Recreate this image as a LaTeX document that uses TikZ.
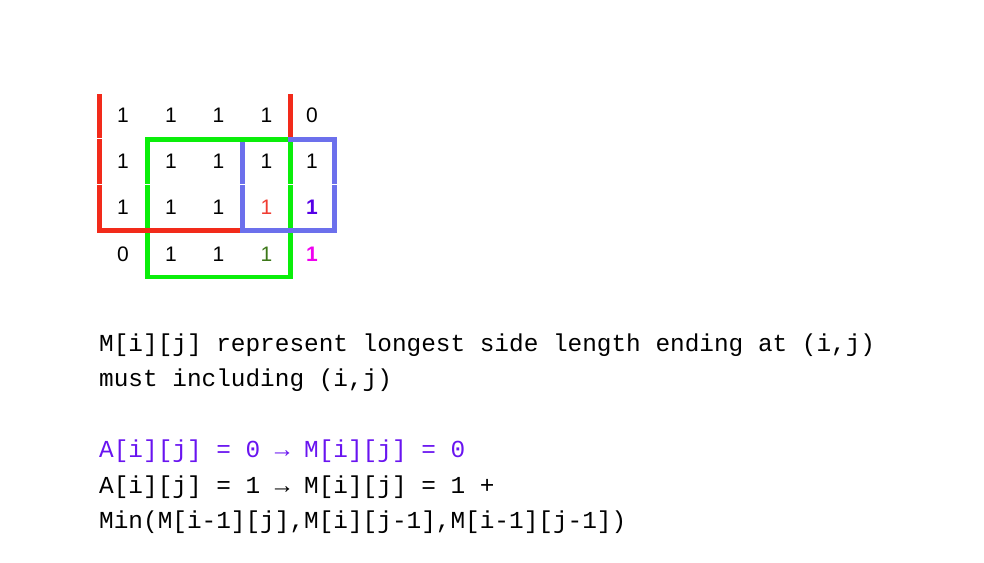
\documentclass[tikz,border=0pt]{standalone}
\usepackage{fontspec}
\setmainfont{Liberation Sans}
\newfontfamily\codefont{Liberation Mono}
\definecolor{redline}{RGB}{242,42,26}
\definecolor{greenline}{RGB}{10,238,10}
\definecolor{blueline}{RGB}{108,112,236}
\definecolor{redone}{RGB}{240,60,50}
\definecolor{purpleone}{RGB}{85,0,230}
\definecolor{magentaone}{RGB}{240,0,240}
\definecolor{darkgreenone}{RGB}{60,120,25}
\definecolor{codepurple}{RGB}{105,20,240}
\tikzset{
  cell/.style={inner sep=0pt, font=\fontsize{21}{25}\selectfont},
  boldcell/.style={inner sep=0pt, font=\fontsize{21}{25}\selectfont\bfseries},
  hline/.style={line width=4.8pt},
  gap/.style={white, line width=1.1pt},
  code/.style={anchor=base west, inner sep=0pt, font=\codefont\fontsize{24.4}{30}\selectfont}
}
\begin{document}
\begin{tikzpicture}[x=1pt,y=-1pt]
\useasboundingbox (0,0) rectangle (984,562);
% green square
\draw[hline, greenline] (147.5,139.5) rectangle (290.8,277);
% blue square
\draw[hline, blueline, line join=miter] (242.5,141.7) -- (242.5,230.3) -- (334.2,230.3) -- (334.2,139.5) -- (288.3,139.5);
% red L
\draw[hline, redline, line join=miter] (99.5,91.5) -- (99.5,230.5) -- (240.2,230.5);
\draw[hline, redline] (290.5,91.5) -- (290.5,137.3);
% small white gaps on the verticals
\foreach \gx in {99.5,290.5} \draw[gap] (\gx-3,93) -- (\gx+3,93);
\draw[gap] (96,138.4) -- (103,138.4);
\foreach \gx in {99.5,147.5,242.5,290.8,334.2} \draw[gap] (\gx-3,184.2) -- (\gx+3,184.2);
% matrix
\node[cell] (a11) at (123,115) {1};
\node[cell] (a12) at (171,115) {1};
\node[cell] (a13) at (218.5,115) {1};
\node[cell] (a14) at (266.5,115) {1};
\node[cell] (a15) at (312,115) {0};
\node[cell] (a21) at (123,161) {1};
\node[cell] (a22) at (171,161) {1};
\node[cell] (a23) at (218.5,161) {1};
\node[cell] (a24) at (266.5,161) {1};
\node[cell] (a25) at (312,161) {1};
\node[cell] (a31) at (123,207) {1};
\node[cell] (a32) at (171,207) {1};
\node[cell] (a33) at (218.5,207) {1};
\node[cell, text=redone] (a34) at (266.5,207) {1};
\node[boldcell, text=purpleone] (a35) at (312,207) {1};
\node[cell] (a41) at (123,254) {0};
\node[cell] (a42) at (171,254) {1};
\node[cell] (a43) at (218.5,254) {1};
\node[cell, text=darkgreenone] (a44) at (266.5,254) {1};
\node[boldcell, text=magentaone] (a45) at (312,254) {1};
% text
\node[code] (t1) at (99,351) {M[i][j] represent longest side length ending at (i,j)};
\node[code] (t2) at (99,386.5) {must including (i,j)};
\node[code, text=codepurple] (t3) at (99,457.5) {A[i][j] = 0 → M[i][j] = 0};
\node[code] (t4) at (99,493) {A[i][j] = 1 → M[i][j] = 1 +};
\node[code] (t5) at (99,528.5) {Min(M[i-1][j],M[i][j-1],M[i-1][j-1])};
\end{tikzpicture}
\end{document}
